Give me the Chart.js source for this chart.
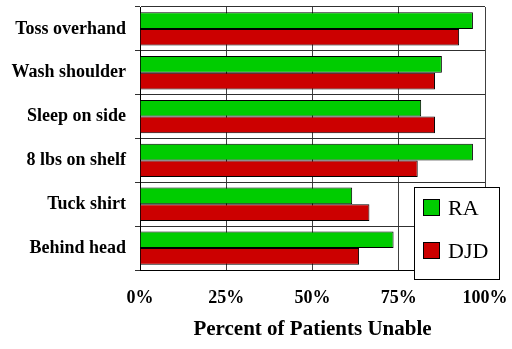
<!DOCTYPE html>
<html>
<head>
<meta charset="utf-8">
<script src="https://cdn.jsdelivr.net/npm/chart.js@4/dist/chart.umd.min.js"></script>
<style>
  html, body { margin: 0; padding: 0; background: #fff; }
  #wrap { width: 512px; height: 349px; }
</style>
</head>
<body>
<div id="wrap"><canvas id="myChart" width="512" height="349"></canvas></div>
<script>
// data
const categories = ["Toss overhand", "Wash shoulder", "Sleep on side", "8 lbs on shelf", "Tuck shirt", "Behind head"];
const raValues = [96.5, 87.5, 81.5, 96.5, 61.5, 73.5];
const djdValues = [92.5, 85.5, 85.5, 80.5, 66.5, 63.5];
const xTicks = [0, 25, 50, 75, 100];

const serif = "'Liberation Serif', serif";

// legend box sitting inside the plot, lower right
const boxLegend = {
  id: "boxLegend",
  afterDraw(chart) {
    const ctx = chart.ctx;
    const x0 = 414, y0 = 187, w = 85, h = 92;
    ctx.save();
    ctx.fillStyle = "#fff";
    ctx.fillRect(x0, y0, w, h);
    ctx.strokeStyle = "#000";
    ctx.lineWidth = 1;
    ctx.strokeRect(x0 + 0.5, y0 + 0.5, w, h);
    ctx.font = "22px 'Times New Roman', 'Liberation Serif', serif";
    ctx.textBaseline = "middle";
    ctx.textAlign = "left";
    chart.data.datasets.forEach((ds, i) => {
      const sy = y0 + 12 + i * 43;
      ctx.fillStyle = ds.backgroundColor;
      ctx.fillRect(x0 + 9, sy, 17, 17);
      ctx.strokeRect(x0 + 9.5, sy + 0.5, 16, 16);
      ctx.fillStyle = "#000";
      ctx.fillText(ds.label, x0 + 34, sy + 10);
    });
    ctx.restore();
  }
};

const myChart = new Chart(document.getElementById("myChart").getContext("2d"), {
  type: "bar",
  data: {
    labels: categories,
    datasets: [
      { label: "RA", data: raValues, backgroundColor: "#00CC00", borderColor: "#000", borderWidth: 1 },
      { label: "DJD", data: djdValues, backgroundColor: "#CC0000", borderColor: "#000", borderWidth: 1 }
    ]
  },
  options: {
    indexAxis: "y",
    responsive: false,
    animation: false,
    categoryPercentage: 0.76,
    barPercentage: 1.0,
    layout: { padding: { top: 7, right: 27, left: 0, bottom: 0 } },
    plugins: { legend: { display: false }, tooltip: { enabled: false } },
    scales: {
      x: {
        min: 0,
        max: 100,
        afterBuildTicks(scale) { scale.ticks = xTicks.map(v => ({ value: v })); },
        afterFit(scale) {
          scale.height = 79;
          scale.paddingLeft = 0;
          scale.paddingRight = 0;
        },
        grid: { color: "#404040", lineWidth: 1, drawTicks: false },
        border: { color: "#000", width: 1 },
        ticks: {
          padding: 18,
          color: "#000",
          font: { family: serif, size: 18, weight: "bold" },
          callback: v => v + "%"
        },
        title: {
          display: true,
          text: "Percent of Patients Unable",
          color: "#000",
          font: { family: serif, size: 21, weight: "bold" },
          padding: { top: 0, bottom: 7 }
        }
      },
      y: {
        afterFit(scale) {
          scale.width = 140;
          scale.paddingTop = 0;
          scale.paddingBottom = 0;
        },
        grid: { color: "#303030", lineWidth: 1, tickLength: 5, offset: true },
        border: { color: "#000", width: 1 },
        ticks: {
          padding: 9,
          color: "#000",
          font: { family: serif, size: 18, weight: "bold" }
        }
      }
    }
  },
  plugins: [boxLegend]
});
</script>
</body>
</html>
